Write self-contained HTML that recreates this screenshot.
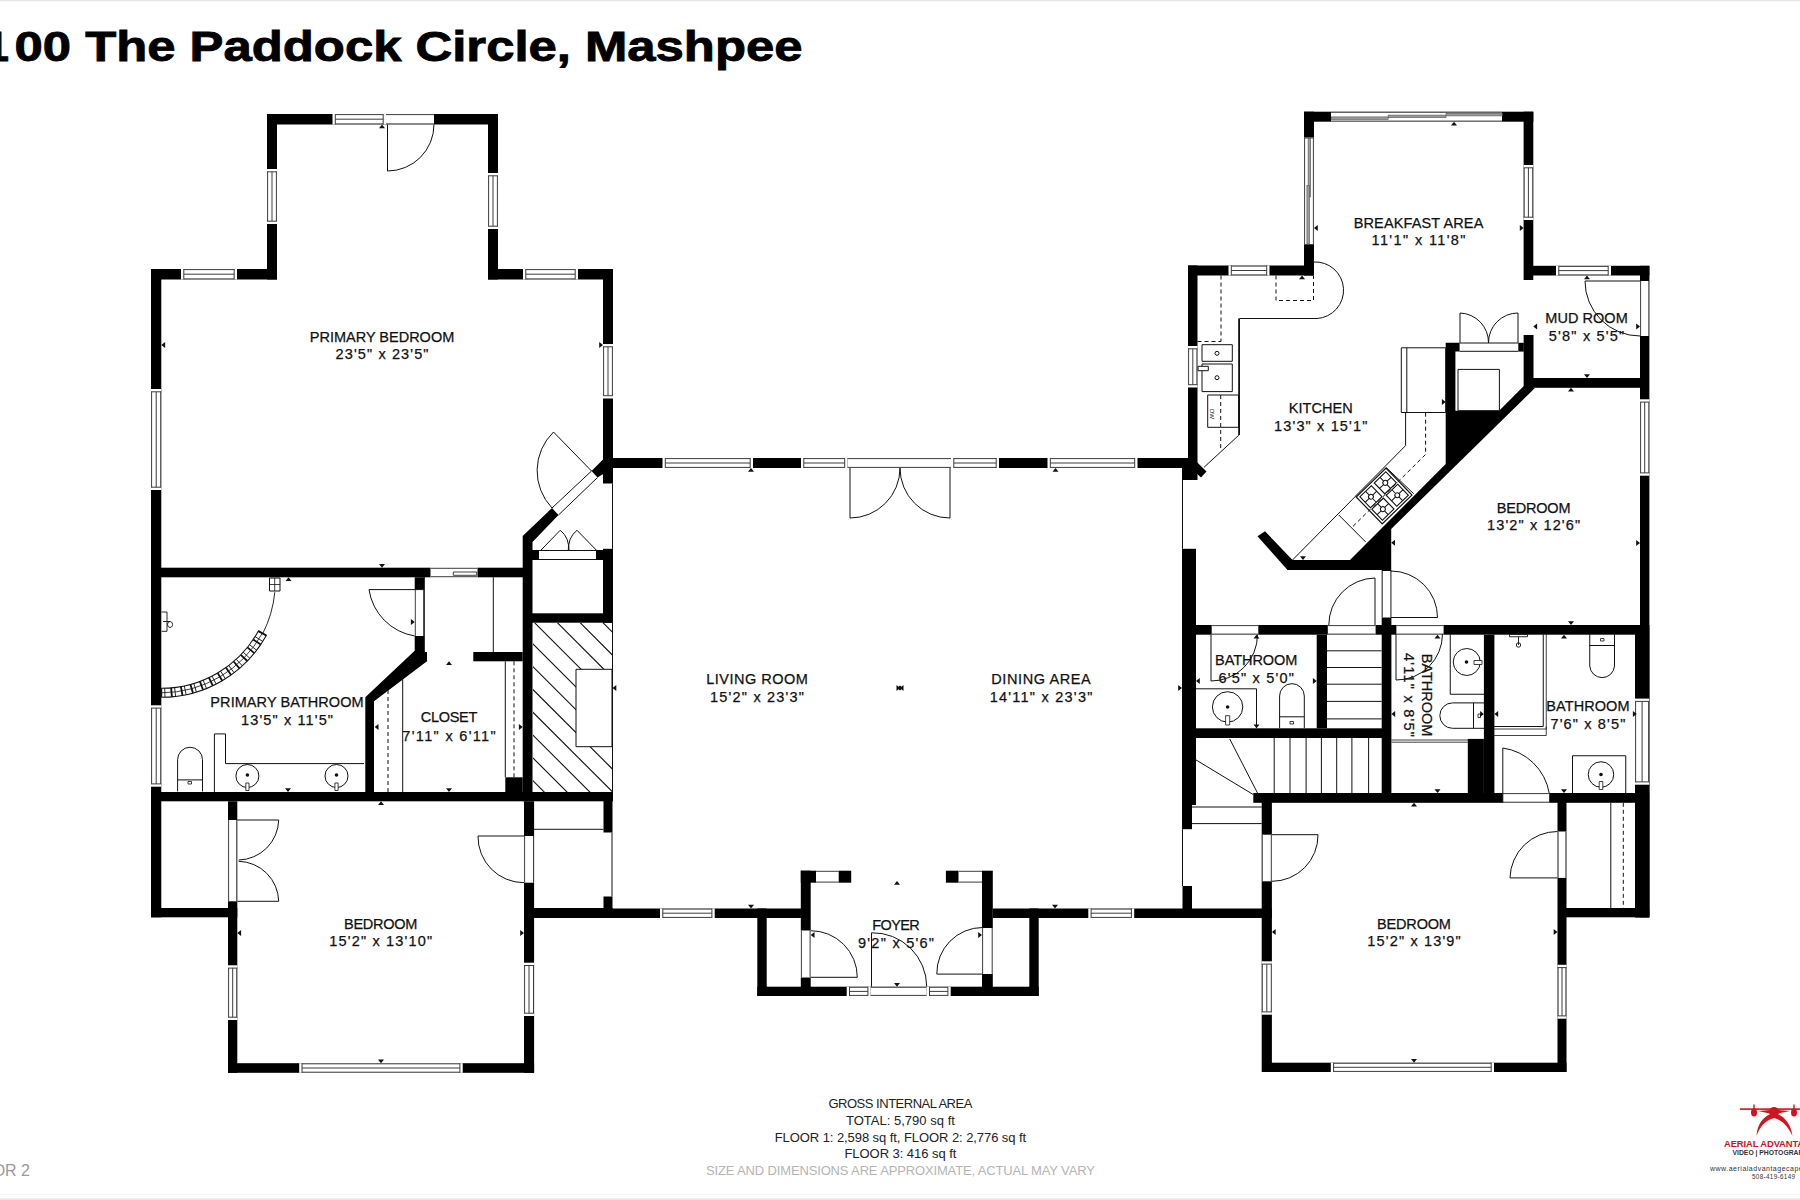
<!DOCTYPE html>
<html><head><meta charset="utf-8"><style>
html,body{margin:0;padding:0;background:#fff;width:1800px;height:1200px;overflow:hidden}
svg{display:block}
text{font-family:"Liberation Sans",sans-serif}
</style></head><body>
<svg width="1800" height="1200" viewBox="0 0 1800 1200">
<rect x="0" y="0" width="1800" height="1200" fill="#fff"/>
<rect x="0.0" y="0.0" width="1800.0" height="1.2" fill="#e6e6e6"/>
<rect x="0.0" y="1194.0" width="1800.0" height="0.8" fill="#f3f3f3"/>
<rect x="0.0" y="1198.5" width="1800.0" height="1.5" fill="#e4e4e4"/>
<text x="-15" y="61" font-size="43" fill="#000" font-weight="bold" text-anchor="start" stroke="#000" stroke-width="0.9">1</text>
<text x="14.5" y="61" font-size="43" fill="#000" font-weight="bold" text-anchor="start" textLength="788" lengthAdjust="spacingAndGlyphs" stroke="#000" stroke-width="0.9">00 The Paddock Circle, Mashpee</text>
<rect x="267.0" y="114.0" width="231.0" height="10.5" fill="#000"/>
<rect x="267.0" y="114.0" width="10.0" height="165.5" fill="#000"/>
<rect x="488.0" y="114.0" width="10.0" height="165.5" fill="#000"/>
<rect x="151.0" y="269.0" width="126.0" height="10.5" fill="#000"/>
<rect x="488.0" y="269.0" width="125.0" height="10.5" fill="#000"/>
<rect x="151.0" y="269.0" width="10.3" height="648.3" fill="#000"/>
<rect x="603.0" y="269.0" width="10.0" height="214.5" fill="#000"/>
<rect x="332.5" y="114.0" width="53.5" height="10.5" fill="#fff"/>
<line x1="335.3" y1="114.6" x2="383.2" y2="114.6" stroke="#3c3c3c" stroke-width="1"/>
<line x1="335.3" y1="119.2" x2="383.2" y2="119.2" stroke="#3c3c3c" stroke-width="1"/>
<line x1="335.3" y1="123.9" x2="383.2" y2="123.9" stroke="#3c3c3c" stroke-width="1"/>
<line x1="335.3" y1="114.0" x2="335.3" y2="124.5" stroke="#3c3c3c" stroke-width="1"/>
<line x1="383.2" y1="114.0" x2="383.2" y2="124.5" stroke="#3c3c3c" stroke-width="1"/>
<rect x="386.0" y="114.0" width="48.0" height="10.5" fill="#fff"/>
<line x1="386.0" y1="114.6" x2="434.0" y2="114.6" stroke="#3c3c3c" stroke-width="1"/>
<line x1="386.0" y1="123.9" x2="434.0" y2="123.9" stroke="#3c3c3c" stroke-width="1"/>
<rect x="267.0" y="169.0" width="10.0" height="55.0" fill="#fff"/>
<line x1="267.6" y1="171.8" x2="267.6" y2="221.2" stroke="#3c3c3c" stroke-width="1"/>
<line x1="272.0" y1="171.8" x2="272.0" y2="221.2" stroke="#3c3c3c" stroke-width="1"/>
<line x1="276.4" y1="171.8" x2="276.4" y2="221.2" stroke="#3c3c3c" stroke-width="1"/>
<line x1="267.0" y1="171.8" x2="277.0" y2="171.8" stroke="#3c3c3c" stroke-width="1"/>
<line x1="267.0" y1="221.2" x2="277.0" y2="221.2" stroke="#3c3c3c" stroke-width="1"/>
<rect x="488.0" y="173.0" width="10.0" height="56.0" fill="#fff"/>
<line x1="488.6" y1="175.8" x2="488.6" y2="226.2" stroke="#3c3c3c" stroke-width="1"/>
<line x1="493.0" y1="175.8" x2="493.0" y2="226.2" stroke="#3c3c3c" stroke-width="1"/>
<line x1="497.4" y1="175.8" x2="497.4" y2="226.2" stroke="#3c3c3c" stroke-width="1"/>
<line x1="488.0" y1="175.8" x2="498.0" y2="175.8" stroke="#3c3c3c" stroke-width="1"/>
<line x1="488.0" y1="226.2" x2="498.0" y2="226.2" stroke="#3c3c3c" stroke-width="1"/>
<rect x="181.0" y="269.0" width="56.0" height="10.5" fill="#fff"/>
<line x1="183.8" y1="269.6" x2="234.2" y2="269.6" stroke="#3c3c3c" stroke-width="1"/>
<line x1="183.8" y1="274.2" x2="234.2" y2="274.2" stroke="#3c3c3c" stroke-width="1"/>
<line x1="183.8" y1="278.9" x2="234.2" y2="278.9" stroke="#3c3c3c" stroke-width="1"/>
<line x1="183.8" y1="269.0" x2="183.8" y2="279.5" stroke="#3c3c3c" stroke-width="1"/>
<line x1="234.2" y1="269.0" x2="234.2" y2="279.5" stroke="#3c3c3c" stroke-width="1"/>
<rect x="523.0" y="269.0" width="55.0" height="10.5" fill="#fff"/>
<line x1="525.8" y1="269.6" x2="575.2" y2="269.6" stroke="#3c3c3c" stroke-width="1"/>
<line x1="525.8" y1="274.2" x2="575.2" y2="274.2" stroke="#3c3c3c" stroke-width="1"/>
<line x1="525.8" y1="278.9" x2="575.2" y2="278.9" stroke="#3c3c3c" stroke-width="1"/>
<line x1="525.8" y1="269.0" x2="525.8" y2="279.5" stroke="#3c3c3c" stroke-width="1"/>
<line x1="575.2" y1="269.0" x2="575.2" y2="279.5" stroke="#3c3c3c" stroke-width="1"/>
<rect x="151.0" y="389.0" width="10.3" height="101.0" fill="#fff"/>
<line x1="151.6" y1="391.8" x2="151.6" y2="487.2" stroke="#3c3c3c" stroke-width="1"/>
<line x1="156.2" y1="391.8" x2="156.2" y2="487.2" stroke="#3c3c3c" stroke-width="1"/>
<line x1="160.7" y1="391.8" x2="160.7" y2="487.2" stroke="#3c3c3c" stroke-width="1"/>
<line x1="151.0" y1="391.8" x2="161.3" y2="391.8" stroke="#3c3c3c" stroke-width="1"/>
<line x1="151.0" y1="487.2" x2="161.3" y2="487.2" stroke="#3c3c3c" stroke-width="1"/>
<rect x="151.0" y="705.3" width="10.3" height="81.4" fill="#fff"/>
<line x1="151.6" y1="708.1" x2="151.6" y2="783.9" stroke="#3c3c3c" stroke-width="1"/>
<line x1="156.2" y1="708.1" x2="156.2" y2="783.9" stroke="#3c3c3c" stroke-width="1"/>
<line x1="160.7" y1="708.1" x2="160.7" y2="783.9" stroke="#3c3c3c" stroke-width="1"/>
<line x1="151.0" y1="708.1" x2="161.3" y2="708.1" stroke="#3c3c3c" stroke-width="1"/>
<line x1="151.0" y1="783.9" x2="161.3" y2="783.9" stroke="#3c3c3c" stroke-width="1"/>
<rect x="603.0" y="344.0" width="10.0" height="54.5" fill="#fff"/>
<line x1="603.6" y1="346.8" x2="603.6" y2="395.7" stroke="#3c3c3c" stroke-width="1"/>
<line x1="608.0" y1="346.8" x2="608.0" y2="395.7" stroke="#3c3c3c" stroke-width="1"/>
<line x1="612.4" y1="346.8" x2="612.4" y2="395.7" stroke="#3c3c3c" stroke-width="1"/>
<line x1="603.0" y1="346.8" x2="613.0" y2="346.8" stroke="#3c3c3c" stroke-width="1"/>
<line x1="603.0" y1="395.7" x2="613.0" y2="395.7" stroke="#3c3c3c" stroke-width="1"/>
<path d="M387.5,124.5 L387.5,171.0 A46.5,46.5 0 0 0 434.0,124.5" fill="none" stroke="#111" stroke-width="1"/>
<rect x="151.0" y="567.7" width="279.7" height="9.6" fill="#000"/>
<rect x="477.3" y="567.7" width="54.7" height="9.6" fill="#000"/>
<rect x="430.7" y="567.7" width="46.6" height="9.6" fill="#fff"/>
<line x1="430.7" y1="568.3" x2="477.3" y2="568.3" stroke="#3c3c3c" stroke-width="1"/>
<line x1="430.7" y1="576.7" x2="477.3" y2="576.7" stroke="#3c3c3c" stroke-width="1"/>
<rect x="453.3" y="572.0" width="23.4" height="3.3" fill="#fff"/>
<path d="M453.3,572 H476.7 V575.3 H453.3 Z" fill="none" stroke="#111" stroke-width="0.8"/>
<polygon points="591.5,471.0 603.0,459.5 613.0,459.5 613.0,468.0 597.5,477.5" fill="#000"/>
<polygon points="522.7,536.0 552.0,508.0 558.5,515.0 532.5,542.0 532.5,801.3 522.7,801.3" fill="#000"/>
<line x1="552.0" y1="508.0" x2="591.5" y2="471.0" stroke="#111" stroke-width="1"/>
<line x1="558.5" y1="515.0" x2="597.5" y2="477.5" stroke="#111" stroke-width="1"/>
<path d="M591.5,471 L553.5,432 A54,54 0 0 0 552,508" fill="none" stroke="#111" stroke-width="1"/>
<rect x="532.0" y="550.0" width="7.0" height="10.0" fill="#000"/>
<rect x="596.0" y="550.0" width="7.0" height="10.0" fill="#000"/>
<rect x="603.0" y="548.8" width="10.0" height="73.9" fill="#000"/>
<rect x="532.0" y="613.3" width="81.0" height="9.4" fill="#000"/>
<line x1="539.0" y1="550.5" x2="596.0" y2="550.5" stroke="#111" stroke-width="1"/>
<line x1="539.0" y1="559.5" x2="596.0" y2="559.5" stroke="#111" stroke-width="1"/>
<line x1="612.5" y1="483.5" x2="612.5" y2="548.8" stroke="#111" stroke-width="1"/>
<path d="M540.3,550.8 L560.2,530.3 A21,21 0 0 1 568.3,550.8" fill="none" stroke="#111" stroke-width="1"/>
<path d="M569,550.8 A21,21 0 0 1 577,530.3 L597,550.8" fill="none" stroke="#111" stroke-width="1"/>
<clipPath id="fp"><rect x="533" y="622.7" width="79" height="169.3"/></clipPath>
<path clip-path="url(#fp)" d="M329.29999999999995,622.7 L499.29999999999995,792.7 M352.1,622.7 L522.1,792.7 M374.9,622.7 L544.9,792.7 M397.7,622.7 L567.7,792.7 M420.5,622.7 L590.5,792.7 M443.3,622.7 L613.3,792.7 M466.1,622.7 L636.1,792.7 M488.9,622.7 L658.9,792.7 M511.7,622.7 L681.7,792.7 M534.5,622.7 L704.5,792.7 M557.3,622.7 L727.3,792.7 M580.1,622.7 L750.1,792.7 M602.9,622.7 L772.9,792.7 M625.7,622.7 L795.7,792.7 M648.5,622.7 L818.5,792.7" fill="none" stroke="#111" stroke-width="1.1"/>
<rect x="576.0" y="669.3" width="36.0" height="77.4" fill="#fff"/>
<path d="M576,669.3 H612 V746.7 H576 Z" fill="none" stroke="#111" stroke-width="1"/>
<line x1="612.5" y1="622.7" x2="612.5" y2="792.0" stroke="#111" stroke-width="1"/>
<rect x="414.7" y="577.3" width="9.6" height="12.3" fill="#000"/>
<rect x="414.7" y="636.0" width="9.6" height="25.3" fill="#000"/>
<rect x="414.7" y="652.0" width="12.3" height="9.3" fill="#000"/>
<rect x="414.7" y="589.6" width="9.6" height="46.4" fill="#fff"/>
<line x1="415.3" y1="589.6" x2="415.3" y2="636.0" stroke="#3c3c3c" stroke-width="1"/>
<line x1="423.7" y1="589.6" x2="423.7" y2="636.0" stroke="#3c3c3c" stroke-width="1"/>
<polygon points="414.7,650.7 427.0,661.3 374.0,701.3 374.0,792.0 365.3,792.0 365.3,697.3" fill="#000"/>
<rect x="473.3" y="652.0" width="49.4" height="9.3" fill="#000"/>
<rect x="505.3" y="777.3" width="17.4" height="14.7" fill="#000"/>
<path d="M424.3,589.6 L369.0,589.6 A55.3,55.3 0 0 0 414.7,636.0" fill="none" stroke="#111" stroke-width="1"/>
<line x1="493.3" y1="577.3" x2="493.3" y2="652.0" stroke="#111" stroke-width="1"/>
<line x1="402.7" y1="676.0" x2="402.7" y2="792.0" stroke="#111" stroke-width="1"/>
<line x1="388.0" y1="690.0" x2="388.0" y2="792.0" stroke="#111" stroke-width="1" stroke-dasharray="4,3"/>
<line x1="505.3" y1="661.3" x2="505.3" y2="777.3" stroke="#111" stroke-width="1"/>
<line x1="514.0" y1="661.3" x2="514.0" y2="777.3" stroke="#111" stroke-width="1" stroke-dasharray="4,3"/>
<line x1="424.3" y1="577.0" x2="424.3" y2="652.0" stroke="#111" stroke-width="1"/>
<rect x="151.0" y="792.0" width="462.0" height="9.3" fill="#000"/>
<rect x="151.0" y="908.0" width="86.3" height="9.3" fill="#000"/>
<rect x="228.0" y="801.3" width="9.3" height="271.5" fill="#000"/>
<rect x="228.0" y="1063.2" width="306.1" height="9.6" fill="#000"/>
<rect x="524.0" y="801.3" width="10.1" height="271.5" fill="#000"/>
<rect x="534.0" y="908.0" width="79.0" height="9.3" fill="#000"/>
<rect x="603.5" y="792.0" width="9.0" height="40.5" fill="#000"/>
<rect x="603.5" y="896.5" width="9.0" height="20.8" fill="#000"/>
<rect x="299.2" y="1063.2" width="163.5" height="9.6" fill="#fff"/>
<line x1="302.0" y1="1063.8" x2="459.9" y2="1063.8" stroke="#3c3c3c" stroke-width="1"/>
<line x1="302.0" y1="1068.0" x2="459.9" y2="1068.0" stroke="#3c3c3c" stroke-width="1"/>
<line x1="302.0" y1="1072.2" x2="459.9" y2="1072.2" stroke="#3c3c3c" stroke-width="1"/>
<line x1="302.0" y1="1063.2" x2="302.0" y2="1072.8" stroke="#3c3c3c" stroke-width="1"/>
<line x1="459.9" y1="1063.2" x2="459.9" y2="1072.8" stroke="#3c3c3c" stroke-width="1"/>
<rect x="228.0" y="820.0" width="9.3" height="81.3" fill="#fff"/>
<line x1="228.6" y1="820.0" x2="228.6" y2="901.3" stroke="#3c3c3c" stroke-width="1"/>
<line x1="236.7" y1="820.0" x2="236.7" y2="901.3" stroke="#3c3c3c" stroke-width="1"/>
<rect x="228.0" y="965.3" width="9.3" height="54.7" fill="#fff"/>
<line x1="228.6" y1="968.1" x2="228.6" y2="1017.2" stroke="#3c3c3c" stroke-width="1"/>
<line x1="232.7" y1="968.1" x2="232.7" y2="1017.2" stroke="#3c3c3c" stroke-width="1"/>
<line x1="236.7" y1="968.1" x2="236.7" y2="1017.2" stroke="#3c3c3c" stroke-width="1"/>
<line x1="228.0" y1="968.1" x2="237.3" y2="968.1" stroke="#3c3c3c" stroke-width="1"/>
<line x1="228.0" y1="1017.2" x2="237.3" y2="1017.2" stroke="#3c3c3c" stroke-width="1"/>
<rect x="524.0" y="836.0" width="10.1" height="46.7" fill="#fff"/>
<line x1="524.6" y1="836.0" x2="524.6" y2="882.7" stroke="#3c3c3c" stroke-width="1"/>
<line x1="533.5" y1="836.0" x2="533.5" y2="882.7" stroke="#3c3c3c" stroke-width="1"/>
<rect x="524.0" y="962.7" width="10.1" height="53.3" fill="#fff"/>
<line x1="524.6" y1="965.5" x2="524.6" y2="1013.2" stroke="#3c3c3c" stroke-width="1"/>
<line x1="529.0" y1="965.5" x2="529.0" y2="1013.2" stroke="#3c3c3c" stroke-width="1"/>
<line x1="533.5" y1="965.5" x2="533.5" y2="1013.2" stroke="#3c3c3c" stroke-width="1"/>
<line x1="524.0" y1="965.5" x2="534.1" y2="965.5" stroke="#3c3c3c" stroke-width="1"/>
<line x1="524.0" y1="1013.2" x2="534.1" y2="1013.2" stroke="#3c3c3c" stroke-width="1"/>
<line x1="612.0" y1="832.5" x2="612.0" y2="896.5" stroke="#111" stroke-width="1"/>
<line x1="534.0" y1="829.3" x2="603.5" y2="829.3" stroke="#111" stroke-width="1"/>
<path d="M237.3,820 H278.7 A41,41 0 0 1 238.7,860" fill="none" stroke="#111" stroke-width="1"/>
<path d="M238.7,861.3 A41,41 0 0 1 278.7,901.3 H237.3" fill="none" stroke="#111" stroke-width="1"/>
<path d="M524.0,836.0 L478.0,836.0 A46.0,46.0 0 0 0 524.0,882.7" fill="none" stroke="#111" stroke-width="1"/>
<rect x="603.0" y="458.0" width="593.0" height="10.0" fill="#000"/>
<rect x="662.5" y="458.0" width="90.5" height="10.0" fill="#fff"/>
<line x1="665.3" y1="458.6" x2="750.2" y2="458.6" stroke="#3c3c3c" stroke-width="1"/>
<line x1="665.3" y1="463.0" x2="750.2" y2="463.0" stroke="#3c3c3c" stroke-width="1"/>
<line x1="665.3" y1="467.4" x2="750.2" y2="467.4" stroke="#3c3c3c" stroke-width="1"/>
<line x1="665.3" y1="458.0" x2="665.3" y2="468.0" stroke="#3c3c3c" stroke-width="1"/>
<line x1="750.2" y1="458.0" x2="750.2" y2="468.0" stroke="#3c3c3c" stroke-width="1"/>
<rect x="801.0" y="458.0" width="46.5" height="10.0" fill="#fff"/>
<line x1="803.8" y1="458.6" x2="844.7" y2="458.6" stroke="#3c3c3c" stroke-width="1"/>
<line x1="803.8" y1="463.0" x2="844.7" y2="463.0" stroke="#3c3c3c" stroke-width="1"/>
<line x1="803.8" y1="467.4" x2="844.7" y2="467.4" stroke="#3c3c3c" stroke-width="1"/>
<line x1="803.8" y1="458.0" x2="803.8" y2="468.0" stroke="#3c3c3c" stroke-width="1"/>
<line x1="844.7" y1="458.0" x2="844.7" y2="468.0" stroke="#3c3c3c" stroke-width="1"/>
<rect x="847.5" y="458.0" width="103.5" height="10.0" fill="#fff"/>
<line x1="847.5" y1="458.6" x2="951.0" y2="458.6" stroke="#3c3c3c" stroke-width="1"/>
<line x1="847.5" y1="467.4" x2="951.0" y2="467.4" stroke="#3c3c3c" stroke-width="1"/>
<rect x="951.0" y="458.0" width="48.0" height="10.0" fill="#fff"/>
<line x1="953.8" y1="458.6" x2="996.2" y2="458.6" stroke="#3c3c3c" stroke-width="1"/>
<line x1="953.8" y1="463.0" x2="996.2" y2="463.0" stroke="#3c3c3c" stroke-width="1"/>
<line x1="953.8" y1="467.4" x2="996.2" y2="467.4" stroke="#3c3c3c" stroke-width="1"/>
<line x1="953.8" y1="458.0" x2="953.8" y2="468.0" stroke="#3c3c3c" stroke-width="1"/>
<line x1="996.2" y1="458.0" x2="996.2" y2="468.0" stroke="#3c3c3c" stroke-width="1"/>
<rect x="1047.5" y="458.0" width="90.0" height="10.0" fill="#fff"/>
<line x1="1050.3" y1="458.6" x2="1134.7" y2="458.6" stroke="#3c3c3c" stroke-width="1"/>
<line x1="1050.3" y1="463.0" x2="1134.7" y2="463.0" stroke="#3c3c3c" stroke-width="1"/>
<line x1="1050.3" y1="467.4" x2="1134.7" y2="467.4" stroke="#3c3c3c" stroke-width="1"/>
<line x1="1050.3" y1="458.0" x2="1050.3" y2="468.0" stroke="#3c3c3c" stroke-width="1"/>
<line x1="1134.7" y1="458.0" x2="1134.7" y2="468.0" stroke="#3c3c3c" stroke-width="1"/>
<path d="M850,468 V518 A50,50 0 0 0 900,468" fill="none" stroke="#111" stroke-width="1"/>
<path d="M950,468 V518 A50,50 0 0 1 900,468" fill="none" stroke="#111" stroke-width="1"/>
<rect x="534.0" y="908.5" width="267.0" height="9.5" fill="#000"/>
<rect x="660.0" y="908.5" width="54.7" height="9.5" fill="#fff"/>
<line x1="662.8" y1="909.1" x2="711.9" y2="909.1" stroke="#3c3c3c" stroke-width="1"/>
<line x1="662.8" y1="913.2" x2="711.9" y2="913.2" stroke="#3c3c3c" stroke-width="1"/>
<line x1="662.8" y1="917.4" x2="711.9" y2="917.4" stroke="#3c3c3c" stroke-width="1"/>
<line x1="662.8" y1="908.5" x2="662.8" y2="918.0" stroke="#3c3c3c" stroke-width="1"/>
<line x1="711.9" y1="908.5" x2="711.9" y2="918.0" stroke="#3c3c3c" stroke-width="1"/>
<rect x="992.8" y="908.5" width="279.1" height="9.5" fill="#000"/>
<rect x="1088.3" y="908.5" width="45.9" height="9.5" fill="#fff"/>
<line x1="1091.1" y1="909.1" x2="1131.4" y2="909.1" stroke="#3c3c3c" stroke-width="1"/>
<line x1="1091.1" y1="913.2" x2="1131.4" y2="913.2" stroke="#3c3c3c" stroke-width="1"/>
<line x1="1091.1" y1="917.4" x2="1131.4" y2="917.4" stroke="#3c3c3c" stroke-width="1"/>
<line x1="1091.1" y1="908.5" x2="1091.1" y2="918.0" stroke="#3c3c3c" stroke-width="1"/>
<line x1="1131.4" y1="908.5" x2="1131.4" y2="918.0" stroke="#3c3c3c" stroke-width="1"/>
<rect x="1182.0" y="458.0" width="14.3" height="22.0" fill="#000"/>
<line x1="1182.5" y1="480.0" x2="1182.5" y2="548.8" stroke="#111" stroke-width="1"/>
<rect x="1182.0" y="548.8" width="14.0" height="256.2" fill="#000"/>
<rect x="1182.0" y="805.0" width="10.0" height="24.2" fill="#000"/>
<line x1="1182.5" y1="829.2" x2="1182.5" y2="886.0" stroke="#111" stroke-width="1"/>
<rect x="1182.5" y="886.0" width="9.5" height="32.0" fill="#000"/>
<line x1="1192.0" y1="807.0" x2="1261.7" y2="807.0" stroke="#111" stroke-width="1"/>
<line x1="1192.0" y1="823.6" x2="1261.7" y2="823.6" stroke="#111" stroke-width="1"/>
<rect x="800.8" y="870.7" width="9.9" height="60.0" fill="#000"/>
<rect x="800.8" y="977.3" width="9.9" height="18.7" fill="#000"/>
<rect x="800.8" y="930.7" width="9.9" height="46.6" fill="#fff"/>
<line x1="801.4" y1="930.7" x2="801.4" y2="977.3" stroke="#3c3c3c" stroke-width="1"/>
<line x1="810.1" y1="930.7" x2="810.1" y2="977.3" stroke="#3c3c3c" stroke-width="1"/>
<rect x="800.8" y="870.7" width="15.2" height="12.0" fill="#000"/>
<rect x="816.0" y="870.7" width="22.7" height="12.0" fill="#fff"/>
<line x1="816.0" y1="871.3" x2="838.7" y2="871.3" stroke="#3c3c3c" stroke-width="1"/>
<line x1="816.0" y1="882.1" x2="838.7" y2="882.1" stroke="#3c3c3c" stroke-width="1"/>
<rect x="838.7" y="870.7" width="12.5" height="12.0" fill="#000"/>
<rect x="945.9" y="870.7" width="12.8" height="12.0" fill="#000"/>
<rect x="958.7" y="870.7" width="23.3" height="12.0" fill="#fff"/>
<line x1="958.7" y1="871.3" x2="982.0" y2="871.3" stroke="#3c3c3c" stroke-width="1"/>
<line x1="958.7" y1="882.1" x2="982.0" y2="882.1" stroke="#3c3c3c" stroke-width="1"/>
<rect x="982.0" y="870.7" width="10.8" height="57.3" fill="#000"/>
<rect x="982.0" y="974.0" width="10.8" height="22.0" fill="#000"/>
<rect x="982.0" y="928.0" width="10.8" height="46.0" fill="#fff"/>
<line x1="982.6" y1="928.0" x2="982.6" y2="974.0" stroke="#3c3c3c" stroke-width="1"/>
<line x1="992.2" y1="928.0" x2="992.2" y2="974.0" stroke="#3c3c3c" stroke-width="1"/>
<rect x="757.3" y="986.7" width="281.4" height="9.3" fill="#000"/>
<rect x="846.7" y="986.7" width="24.0" height="9.3" fill="#fff"/>
<line x1="849.5" y1="987.3" x2="867.9" y2="987.3" stroke="#3c3c3c" stroke-width="1"/>
<line x1="849.5" y1="991.4" x2="867.9" y2="991.4" stroke="#3c3c3c" stroke-width="1"/>
<line x1="849.5" y1="995.4" x2="867.9" y2="995.4" stroke="#3c3c3c" stroke-width="1"/>
<line x1="849.5" y1="986.7" x2="849.5" y2="996.0" stroke="#3c3c3c" stroke-width="1"/>
<line x1="867.9" y1="986.7" x2="867.9" y2="996.0" stroke="#3c3c3c" stroke-width="1"/>
<rect x="870.7" y="986.7" width="56.0" height="9.3" fill="#fff"/>
<line x1="870.7" y1="987.3" x2="926.7" y2="987.3" stroke="#3c3c3c" stroke-width="1"/>
<line x1="870.7" y1="995.4" x2="926.7" y2="995.4" stroke="#3c3c3c" stroke-width="1"/>
<rect x="926.7" y="986.7" width="24.0" height="9.3" fill="#fff"/>
<line x1="929.5" y1="987.3" x2="947.9" y2="987.3" stroke="#3c3c3c" stroke-width="1"/>
<line x1="929.5" y1="991.4" x2="947.9" y2="991.4" stroke="#3c3c3c" stroke-width="1"/>
<line x1="929.5" y1="995.4" x2="947.9" y2="995.4" stroke="#3c3c3c" stroke-width="1"/>
<line x1="929.5" y1="986.7" x2="929.5" y2="996.0" stroke="#3c3c3c" stroke-width="1"/>
<line x1="947.9" y1="986.7" x2="947.9" y2="996.0" stroke="#3c3c3c" stroke-width="1"/>
<rect x="757.3" y="908.5" width="9.4" height="87.5" fill="#000"/>
<rect x="1029.3" y="908.5" width="9.4" height="87.5" fill="#000"/>
<path d="M810.7,977.3 L857.3,977.3 A46.6,46.6 0 0 0 810.7,930.7" fill="none" stroke="#111" stroke-width="1"/>
<path d="M982.7,974.1 L936.8,974.1 A45.9,45.9 0 0 1 982.7,927.5" fill="none" stroke="#111" stroke-width="1"/>
<path d="M871.5,986.7 L871.5,932.8 A53.9,53.9 0 0 1 926.7,986.7" fill="none" stroke="#111" stroke-width="1"/>
<rect x="1304.0" y="111.7" width="229.3" height="10.0" fill="#000"/>
<rect x="1304.0" y="111.7" width="10.0" height="163.8" fill="#000"/>
<rect x="1523.6" y="111.7" width="9.7" height="168.3" fill="#000"/>
<rect x="1188.0" y="265.5" width="126.0" height="10.0" fill="#000"/>
<rect x="1188.0" y="265.5" width="9.5" height="214.5" fill="#000"/>
<rect x="1533.0" y="265.8" width="116.4" height="9.7" fill="#000"/>
<rect x="1640.0" y="265.8" width="9.4" height="651.5" fill="#000"/>
<rect x="1331.0" y="111.7" width="171.0" height="10.0" fill="#fff"/>
<line x1="1331.0" y1="112.3" x2="1502.0" y2="112.3" stroke="#3c3c3c" stroke-width="1"/>
<line x1="1331.0" y1="121.1" x2="1502.0" y2="121.1" stroke="#3c3c3c" stroke-width="1"/>
<rect x="1331.2" y="116.9" width="57.0" height="2.6" fill="#9a9a9a" stroke="#555" stroke-width="0.6"/>
<rect x="1388.2" y="115.10000000000001" width="57.799999999999955" height="2.6" fill="#9a9a9a" stroke="#555" stroke-width="0.6"/>
<rect x="1446" y="113.3" width="56.200000000000045" height="2.6" fill="#9a9a9a" stroke="#555" stroke-width="0.6"/>
<rect x="1304.0" y="137.5" width="10.0" height="107.5" fill="#fff"/>
<line x1="1304.6" y1="137.5" x2="1304.6" y2="245.0" stroke="#3c3c3c" stroke-width="1"/>
<line x1="1313.4" y1="137.5" x2="1313.4" y2="245.0" stroke="#3c3c3c" stroke-width="1"/>
<line x1="1304.0" y1="138.0" x2="1314.0" y2="138.0" stroke="#3c3c3c" stroke-width="1"/>
<line x1="1304.0" y1="244.5" x2="1314.0" y2="244.5" stroke="#3c3c3c" stroke-width="1"/>
<rect x="1308.1000000000001" y="138.5" width="2.6" height="58.5" fill="#9a9a9a" stroke="#555" stroke-width="0.6"/>
<rect x="1306.9" y="185.5" width="2.6" height="58.5" fill="#9a9a9a" stroke="#555" stroke-width="0.6"/>
<rect x="1523.6" y="165.0" width="9.7" height="55.0" fill="#fff"/>
<line x1="1524.2" y1="167.8" x2="1524.2" y2="217.2" stroke="#3c3c3c" stroke-width="1"/>
<line x1="1528.4" y1="167.8" x2="1528.4" y2="217.2" stroke="#3c3c3c" stroke-width="1"/>
<line x1="1532.7" y1="167.8" x2="1532.7" y2="217.2" stroke="#3c3c3c" stroke-width="1"/>
<line x1="1523.6" y1="167.8" x2="1533.3" y2="167.8" stroke="#3c3c3c" stroke-width="1"/>
<line x1="1523.6" y1="217.2" x2="1533.3" y2="217.2" stroke="#3c3c3c" stroke-width="1"/>
<rect x="1228.5" y="265.5" width="41.0" height="10.0" fill="#fff"/>
<line x1="1231.3" y1="266.1" x2="1266.7" y2="266.1" stroke="#3c3c3c" stroke-width="1"/>
<line x1="1231.3" y1="270.5" x2="1266.7" y2="270.5" stroke="#3c3c3c" stroke-width="1"/>
<line x1="1231.3" y1="274.9" x2="1266.7" y2="274.9" stroke="#3c3c3c" stroke-width="1"/>
<line x1="1231.3" y1="265.5" x2="1231.3" y2="275.5" stroke="#3c3c3c" stroke-width="1"/>
<line x1="1266.7" y1="265.5" x2="1266.7" y2="275.5" stroke="#3c3c3c" stroke-width="1"/>
<rect x="1188.0" y="346.0" width="9.5" height="41.5" fill="#fff"/>
<line x1="1188.6" y1="348.8" x2="1188.6" y2="384.7" stroke="#3c3c3c" stroke-width="1"/>
<line x1="1192.8" y1="348.8" x2="1192.8" y2="384.7" stroke="#3c3c3c" stroke-width="1"/>
<line x1="1196.9" y1="348.8" x2="1196.9" y2="384.7" stroke="#3c3c3c" stroke-width="1"/>
<line x1="1188.0" y1="348.8" x2="1197.5" y2="348.8" stroke="#3c3c3c" stroke-width="1"/>
<line x1="1188.0" y1="384.7" x2="1197.5" y2="384.7" stroke="#3c3c3c" stroke-width="1"/>
<rect x="1556.0" y="265.8" width="55.0" height="9.7" fill="#fff"/>
<line x1="1558.8" y1="266.4" x2="1608.2" y2="266.4" stroke="#3c3c3c" stroke-width="1"/>
<line x1="1558.8" y1="270.6" x2="1608.2" y2="270.6" stroke="#3c3c3c" stroke-width="1"/>
<line x1="1558.8" y1="274.9" x2="1608.2" y2="274.9" stroke="#3c3c3c" stroke-width="1"/>
<line x1="1558.8" y1="265.8" x2="1558.8" y2="275.5" stroke="#3c3c3c" stroke-width="1"/>
<line x1="1608.2" y1="265.8" x2="1608.2" y2="275.5" stroke="#3c3c3c" stroke-width="1"/>
<rect x="1640.0" y="281.0" width="9.4" height="55.0" fill="#fff"/>
<line x1="1640.6" y1="281.0" x2="1640.6" y2="336.0" stroke="#3c3c3c" stroke-width="1"/>
<line x1="1648.8" y1="281.0" x2="1648.8" y2="336.0" stroke="#3c3c3c" stroke-width="1"/>
<rect x="1640.0" y="399.3" width="9.4" height="76.4" fill="#fff"/>
<line x1="1640.6" y1="402.1" x2="1640.6" y2="472.9" stroke="#3c3c3c" stroke-width="1"/>
<line x1="1644.7" y1="402.1" x2="1644.7" y2="472.9" stroke="#3c3c3c" stroke-width="1"/>
<line x1="1648.8" y1="402.1" x2="1648.8" y2="472.9" stroke="#3c3c3c" stroke-width="1"/>
<line x1="1640.0" y1="402.1" x2="1649.4" y2="402.1" stroke="#3c3c3c" stroke-width="1"/>
<line x1="1640.0" y1="472.9" x2="1649.4" y2="472.9" stroke="#3c3c3c" stroke-width="1"/>
<rect x="1635.0" y="625.0" width="14.4" height="292.3" fill="#000"/>
<rect x="1635.0" y="698.6" width="14.2" height="86.1" fill="#fff"/>
<line x1="1635.6" y1="701.4" x2="1635.6" y2="781.9" stroke="#3c3c3c" stroke-width="1"/>
<line x1="1642.1" y1="701.4" x2="1642.1" y2="781.9" stroke="#3c3c3c" stroke-width="1"/>
<line x1="1648.6" y1="701.4" x2="1648.6" y2="781.9" stroke="#3c3c3c" stroke-width="1"/>
<line x1="1635.0" y1="701.4" x2="1649.2" y2="701.4" stroke="#3c3c3c" stroke-width="1"/>
<line x1="1635.0" y1="781.9" x2="1649.2" y2="781.9" stroke="#3c3c3c" stroke-width="1"/>
<path d="M1640.0,281.0 L1585.0,281.0 A55.0,55.0 0 0 0 1640.0,336.0" fill="none" stroke="#111" stroke-width="1"/>
<rect x="1533.0" y="378.0" width="107.6" height="9.8" fill="#000"/>
<rect x="1523.8" y="335.0" width="9.5" height="53.0" fill="#000"/>
<polygon points="1257.5,536.2 1265.0,531.2 1292.5,560.0 1350.0,560.0 1445.7,464.1 1445.7,342.8 1459.6,342.8 1459.6,351.6 1455.4,351.6 1455.4,410.7 1499.1,410.7 1523.8,386.0 1523.8,335.0 1533.3,335.0 1533.3,387.8 1535.2,387.8 1391.2,528.9 1391.2,570.0 1287.5,570.0" fill="#000"/>
<rect x="1518.3" y="342.8" width="5.5" height="8.8" fill="#000"/>
<line x1="1459.6" y1="343.0" x2="1518.3" y2="343.0" stroke="#111" stroke-width="1"/>
<line x1="1459.6" y1="351.3" x2="1518.3" y2="351.3" stroke="#111" stroke-width="1"/>
<path d="M1460,342.8 V313 A29.5,29.5 0 0 1 1488.5,342.8" fill="none" stroke="#111" stroke-width="1"/>
<path d="M1488.5,342.8 A29.5,29.5 0 0 1 1518,313 V342.8" fill="none" stroke="#111" stroke-width="1"/>
<path d="M1458,369.4 H1499.4 V410.7 H1458 Z" fill="none" stroke="#111" stroke-width="1"/>
<path d="M1401.3,347.8 H1445.7 V412.5 H1401.3 Z" fill="none" stroke="#111" stroke-width="1"/>
<line x1="1406.8" y1="347.8" x2="1406.8" y2="412.5" stroke="#111" stroke-width="1"/>
<rect x="1196.0" y="625.0" width="453.0" height="9.7" fill="#000"/>
<rect x="1211.7" y="625.0" width="46.6" height="9.7" fill="#fff"/>
<line x1="1211.7" y1="625.6" x2="1258.3" y2="625.6" stroke="#3c3c3c" stroke-width="1"/>
<line x1="1211.7" y1="634.1" x2="1258.3" y2="634.1" stroke="#3c3c3c" stroke-width="1"/>
<rect x="1327.8" y="625.0" width="47.8" height="9.7" fill="#fff"/>
<line x1="1327.8" y1="625.6" x2="1375.6" y2="625.6" stroke="#3c3c3c" stroke-width="1"/>
<line x1="1327.8" y1="634.1" x2="1375.6" y2="634.1" stroke="#3c3c3c" stroke-width="1"/>
<rect x="1396.4" y="625.0" width="47.2" height="9.7" fill="#fff"/>
<line x1="1396.4" y1="625.6" x2="1443.6" y2="625.6" stroke="#3c3c3c" stroke-width="1"/>
<line x1="1396.4" y1="634.1" x2="1443.6" y2="634.1" stroke="#3c3c3c" stroke-width="1"/>
<rect x="1381.7" y="570.0" width="9.7" height="223.0" fill="#000"/>
<rect x="1381.7" y="571.0" width="9.7" height="46.5" fill="#fff"/>
<line x1="1382.3" y1="571.0" x2="1382.3" y2="617.5" stroke="#3c3c3c" stroke-width="1"/>
<line x1="1390.8" y1="571.0" x2="1390.8" y2="617.5" stroke="#3c3c3c" stroke-width="1"/>
<rect x="1195.6" y="728.3" width="195.2" height="9.7" fill="#000"/>
<rect x="1316.7" y="634.7" width="10.3" height="93.6" fill="#000"/>
<rect x="1467.8" y="738.9" width="16.1" height="54.1" fill="#000"/>
<rect x="1483.9" y="634.7" width="10.5" height="158.3" fill="#000"/>
<rect x="1253.3" y="793.0" width="395.7" height="9.8" fill="#000"/>
<rect x="1502.8" y="793.0" width="46.4" height="9.8" fill="#fff"/>
<line x1="1502.8" y1="793.6" x2="1549.2" y2="793.6" stroke="#3c3c3c" stroke-width="1"/>
<line x1="1502.8" y1="802.2" x2="1549.2" y2="802.2" stroke="#3c3c3c" stroke-width="1"/>
<path d="M1211.0,634.7 L1211.0,681.0 A46.3,46.3 0 0 0 1257.5,634.7" fill="none" stroke="#111" stroke-width="1"/>
<path d="M1375.0,625.0 L1375.0,578.0 A47.0,47.0 0 0 0 1328.8,625.0" fill="none" stroke="#111" stroke-width="1"/>
<path d="M1391.0,617.5 L1437.5,617.5 A46.5,46.5 0 0 0 1391.0,571.0" fill="none" stroke="#111" stroke-width="1"/>
<path d="M1396.0,634.0 L1396.0,680.0 A46.0,46.0 0 0 0 1442.5,634.0" fill="none" stroke="#111" stroke-width="1"/>
<path d="M1502.8,802.8 L1502.8,748.0 A54.8,54.8 0 0 1 1549.2,793.0" fill="none" stroke="#111" stroke-width="1"/>
<line x1="1327.0" y1="650.8" x2="1381.7" y2="650.8" stroke="#111" stroke-width="1"/>
<line x1="1327.0" y1="667.5" x2="1381.7" y2="667.5" stroke="#111" stroke-width="1"/>
<line x1="1327.0" y1="684.2" x2="1381.7" y2="684.2" stroke="#111" stroke-width="1"/>
<line x1="1327.0" y1="701.4" x2="1381.7" y2="701.4" stroke="#111" stroke-width="1"/>
<line x1="1327.0" y1="718.9" x2="1381.7" y2="718.9" stroke="#111" stroke-width="1"/>
<line x1="1274.2" y1="738.0" x2="1274.2" y2="793.0" stroke="#111" stroke-width="1"/>
<line x1="1290.0" y1="738.0" x2="1290.0" y2="793.0" stroke="#111" stroke-width="1"/>
<line x1="1306.1" y1="738.0" x2="1306.1" y2="793.0" stroke="#111" stroke-width="1"/>
<line x1="1321.4" y1="738.0" x2="1321.4" y2="793.0" stroke="#111" stroke-width="1"/>
<line x1="1336.7" y1="738.0" x2="1336.7" y2="793.0" stroke="#111" stroke-width="1"/>
<line x1="1351.9" y1="738.0" x2="1351.9" y2="793.0" stroke="#111" stroke-width="1"/>
<line x1="1368.6" y1="738.0" x2="1368.6" y2="793.0" stroke="#111" stroke-width="1"/>
<line x1="1195.6" y1="759.7" x2="1253.0" y2="794.4" stroke="#111" stroke-width="1"/>
<line x1="1229.7" y1="738.9" x2="1257.5" y2="793.0" stroke="#111" stroke-width="1"/>
<rect x="1261.7" y="793.0" width="10.2" height="279.0" fill="#000"/>
<rect x="1262.0" y="1062.7" width="304.5" height="9.3" fill="#000"/>
<rect x="1557.5" y="793.0" width="9.0" height="279.0" fill="#000"/>
<rect x="1635.3" y="793.0" width="13.9" height="124.3" fill="#000"/>
<rect x="1566.0" y="908.0" width="83.2" height="9.3" fill="#000"/>
<rect x="1261.7" y="834.7" width="10.2" height="46.6" fill="#fff"/>
<line x1="1262.3" y1="834.7" x2="1262.3" y2="881.3" stroke="#3c3c3c" stroke-width="1"/>
<line x1="1271.3" y1="834.7" x2="1271.3" y2="881.3" stroke="#3c3c3c" stroke-width="1"/>
<rect x="1261.7" y="961.3" width="10.2" height="53.4" fill="#fff"/>
<line x1="1262.3" y1="964.1" x2="1262.3" y2="1011.9" stroke="#3c3c3c" stroke-width="1"/>
<line x1="1266.8" y1="964.1" x2="1266.8" y2="1011.9" stroke="#3c3c3c" stroke-width="1"/>
<line x1="1271.3" y1="964.1" x2="1271.3" y2="1011.9" stroke="#3c3c3c" stroke-width="1"/>
<line x1="1261.7" y1="964.1" x2="1271.9" y2="964.1" stroke="#3c3c3c" stroke-width="1"/>
<line x1="1261.7" y1="1011.9" x2="1271.9" y2="1011.9" stroke="#3c3c3c" stroke-width="1"/>
<rect x="1330.8" y="1062.7" width="163.2" height="9.3" fill="#fff"/>
<line x1="1333.6" y1="1063.3" x2="1491.2" y2="1063.3" stroke="#3c3c3c" stroke-width="1"/>
<line x1="1333.6" y1="1067.3" x2="1491.2" y2="1067.3" stroke="#3c3c3c" stroke-width="1"/>
<line x1="1333.6" y1="1071.4" x2="1491.2" y2="1071.4" stroke="#3c3c3c" stroke-width="1"/>
<line x1="1333.6" y1="1062.7" x2="1333.6" y2="1072.0" stroke="#3c3c3c" stroke-width="1"/>
<line x1="1491.2" y1="1062.7" x2="1491.2" y2="1072.0" stroke="#3c3c3c" stroke-width="1"/>
<rect x="1557.5" y="831.5" width="9.0" height="46.4" fill="#fff"/>
<line x1="1558.1" y1="831.5" x2="1558.1" y2="877.9" stroke="#3c3c3c" stroke-width="1"/>
<line x1="1565.9" y1="831.5" x2="1565.9" y2="877.9" stroke="#3c3c3c" stroke-width="1"/>
<rect x="1557.5" y="964.8" width="9.0" height="53.9" fill="#fff"/>
<line x1="1558.1" y1="967.6" x2="1558.1" y2="1015.9" stroke="#3c3c3c" stroke-width="1"/>
<line x1="1562.0" y1="967.6" x2="1562.0" y2="1015.9" stroke="#3c3c3c" stroke-width="1"/>
<line x1="1565.9" y1="967.6" x2="1565.9" y2="1015.9" stroke="#3c3c3c" stroke-width="1"/>
<line x1="1557.5" y1="967.6" x2="1566.5" y2="967.6" stroke="#3c3c3c" stroke-width="1"/>
<line x1="1557.5" y1="1015.9" x2="1566.5" y2="1015.9" stroke="#3c3c3c" stroke-width="1"/>
<path d="M1271.9,834.7 L1318.0,834.7 A46.1,46.1 0 0 1 1271.9,881.3" fill="none" stroke="#111" stroke-width="1"/>
<path d="M1557.5,877.9 L1510.0,877.9 A47.5,47.5 0 0 1 1557.5,831.5" fill="none" stroke="#111" stroke-width="1"/>
<line x1="1610.8" y1="802.8" x2="1610.8" y2="908.0" stroke="#111" stroke-width="1"/>
<line x1="1623.3" y1="802.8" x2="1623.3" y2="908.0" stroke="#111" stroke-width="1" stroke-dasharray="4,3"/>
<text x="382" y="341.7" font-size="14.5" fill="#111" font-weight="normal" text-anchor="middle" textLength="144.5" lengthAdjust="spacing" stroke="#111" stroke-width="0.25">PRIMARY BEDROOM</text>
<text x="382" y="359.2" font-size="14.5" fill="#111" font-weight="normal" text-anchor="middle" textLength="93" lengthAdjust="spacing" stroke="#111" stroke-width="0.25">23'5" x 23'5"</text>
<text x="757" y="683.7" font-size="14.5" fill="#111" font-weight="normal" text-anchor="middle" textLength="101.5" lengthAdjust="spacing" stroke="#111" stroke-width="0.25">LIVING ROOM</text>
<text x="757" y="701.7" font-size="14.5" fill="#111" font-weight="normal" text-anchor="middle" textLength="94" lengthAdjust="spacing" stroke="#111" stroke-width="0.25">15'2" x 23'3"</text>
<text x="1041" y="683.5" font-size="14.5" fill="#111" font-weight="normal" text-anchor="middle" textLength="99.4" lengthAdjust="spacing" stroke="#111" stroke-width="0.25">DINING AREA</text>
<text x="1041" y="701.5" font-size="14.5" fill="#111" font-weight="normal" text-anchor="middle" textLength="102.7" lengthAdjust="spacing" stroke="#111" stroke-width="0.25">14'11" x 23'3"</text>
<text x="287" y="706.7" font-size="14.5" fill="#111" font-weight="normal" text-anchor="middle" textLength="153.3" lengthAdjust="spacing" stroke="#111" stroke-width="0.25">PRIMARY BATHROOM</text>
<text x="287" y="724.5" font-size="14.5" fill="#111" font-weight="normal" text-anchor="middle" textLength="92" lengthAdjust="spacing" stroke="#111" stroke-width="0.25">13'5" x 11'5"</text>
<text x="449" y="722.4000000000001" font-size="14.5" fill="#111" font-weight="normal" text-anchor="middle" textLength="56.5" lengthAdjust="spacing" stroke="#111" stroke-width="0.25">CLOSET</text>
<text x="449" y="740.5" font-size="14.5" fill="#111" font-weight="normal" text-anchor="middle" textLength="93.3" lengthAdjust="spacing" stroke="#111" stroke-width="0.25">7'11" x 6'11"</text>
<text x="380.7" y="928.5" font-size="14.5" fill="#111" font-weight="normal" text-anchor="middle" textLength="73.3" lengthAdjust="spacing" stroke="#111" stroke-width="0.25">BEDROOM</text>
<text x="380.7" y="946.4000000000001" font-size="14.5" fill="#111" font-weight="normal" text-anchor="middle" textLength="102.7" lengthAdjust="spacing" stroke="#111" stroke-width="0.25">15'2" x 13'10"</text>
<text x="896" y="930.2" font-size="14.5" fill="#111" font-weight="normal" text-anchor="middle" textLength="47.5" lengthAdjust="spacing" stroke="#111" stroke-width="0.25">FOYER</text>
<text x="896" y="947.7" font-size="14.5" fill="#111" font-weight="normal" text-anchor="middle" textLength="76" lengthAdjust="spacing" stroke="#111" stroke-width="0.25">9'2" x 5'6"</text>
<text x="1414" y="928.5" font-size="14.5" fill="#111" font-weight="normal" text-anchor="middle" textLength="73.8" lengthAdjust="spacing" stroke="#111" stroke-width="0.25">BEDROOM</text>
<text x="1414" y="946.4000000000001" font-size="14.5" fill="#111" font-weight="normal" text-anchor="middle" textLength="93.4" lengthAdjust="spacing" stroke="#111" stroke-width="0.25">15'2" x 13'9"</text>
<text x="1320.7" y="413.2" font-size="14.5" fill="#111" font-weight="normal" text-anchor="middle" textLength="64" lengthAdjust="spacing" stroke="#111" stroke-width="0.25">KITCHEN</text>
<text x="1320.7" y="431.2" font-size="14.5" fill="#111" font-weight="normal" text-anchor="middle" textLength="93.3" lengthAdjust="spacing" stroke="#111" stroke-width="0.25">13'3" x 15'1"</text>
<text x="1418.5" y="227.5" font-size="14.5" fill="#111" font-weight="normal" text-anchor="middle" textLength="129.7" lengthAdjust="spacing" stroke="#111" stroke-width="0.25">BREAKFAST AREA</text>
<text x="1418.5" y="245.0" font-size="14.5" fill="#111" font-weight="normal" text-anchor="middle" textLength="93.9" lengthAdjust="spacing" stroke="#111" stroke-width="0.25">11'1" x 11'8"</text>
<text x="1586.5" y="322.8" font-size="14.5" fill="#111" font-weight="normal" text-anchor="middle" textLength="82.5" lengthAdjust="spacing" stroke="#111" stroke-width="0.25">MUD ROOM</text>
<text x="1586.5" y="340.9" font-size="14.5" fill="#111" font-weight="normal" text-anchor="middle" textLength="75.5" lengthAdjust="spacing" stroke="#111" stroke-width="0.25">5'8" x 5'5"</text>
<text x="1533.6" y="512.5" font-size="14.5" fill="#111" font-weight="normal" text-anchor="middle" textLength="73.9" lengthAdjust="spacing" stroke="#111" stroke-width="0.25">BEDROOM</text>
<text x="1533.6" y="529.95" font-size="14.5" fill="#111" font-weight="normal" text-anchor="middle" textLength="93" lengthAdjust="spacing" stroke="#111" stroke-width="0.25">13'2" x 12'6"</text>
<text x="1256.2" y="664.7" font-size="14.5" fill="#111" font-weight="normal" text-anchor="middle" textLength="82.2" lengthAdjust="spacing" stroke="#111" stroke-width="0.25">BATHROOM</text>
<text x="1256.2" y="682.8000000000001" font-size="14.5" fill="#111" font-weight="normal" text-anchor="middle" textLength="75.2" lengthAdjust="spacing" stroke="#111" stroke-width="0.25">6'5" x 5'0"</text>
<text x="1587.9" y="711.0" font-size="14.5" fill="#111" font-weight="normal" text-anchor="middle" textLength="83.2" lengthAdjust="spacing" stroke="#111" stroke-width="0.25">BATHROOM</text>
<text x="1587.9" y="729.45" font-size="14.5" fill="#111" font-weight="normal" text-anchor="middle" textLength="75" lengthAdjust="spacing" stroke="#111" stroke-width="0.25">7'6" x 8'5"</text>
<g transform="translate(1418.4,695) rotate(90)">
<text x="0" y="-3.4" font-size="14.5" fill="#111" font-weight="normal" text-anchor="middle" textLength="82.5" lengthAdjust="spacing" stroke="#111" stroke-width="0.25">BATHROOM</text>
<text x="0" y="14.6" font-size="14.5" fill="#111" font-weight="normal" text-anchor="middle" textLength="84" lengthAdjust="spacing" stroke="#111" stroke-width="0.25">4'11" x 8'5"</text>
</g>
<path d="M1238.7,318.5 V435.3 L1204,467.3" fill="none" stroke="#111" stroke-width="1"/>
<path d="M1239.5,435 V318.5 H1317 A28.2,28.2 0 0 0 1313.5,262" fill="none" stroke="#111" stroke-width="1"/>
<line x1="1221.0" y1="275.5" x2="1221.0" y2="341.5" stroke="#111" stroke-width="1" stroke-dasharray="4,3"/>
<line x1="1197.5" y1="341.5" x2="1221.0" y2="341.5" stroke="#111" stroke-width="1" stroke-dasharray="4,3"/>
<path d="M1276,275.5 V300.5 H1313.5 V275.5" fill="none" stroke="#111" stroke-width="1" stroke-dasharray="4,3"/>
<line x1="1220.7" y1="395.0" x2="1220.7" y2="450.0" stroke="#111" stroke-width="1" stroke-dasharray="4,3"/>
<path d="M1202,344.7 H1232.3 V361.3 H1202 Z" fill="none" stroke="#111" stroke-width="1"/>
<path d="M1202,364 H1232.3 V391.6 H1202 Z" fill="none" stroke="#111" stroke-width="1"/>
<circle cx="1217" cy="353.3" r="2" fill="none" stroke="#111" stroke-width="1"/>
<circle cx="1217" cy="377.7" r="2" fill="none" stroke="#111" stroke-width="1"/>
<path d="M1198,366.3 H1208.3 V370.7 H1198 Z" fill="#fff" stroke="#111" stroke-width="1"/>
<path d="M1207.7,395 H1238.7 V427.3 H1207.7 Z" fill="none" stroke="#111" stroke-width="1"/>
<text transform="translate(1210,414) rotate(90)" font-size="6" fill="#222" text-anchor="middle">DW</text>
<path d="M1405.6,412.7 V445.6 L1292.5,560" fill="none" stroke="#111" stroke-width="1"/>
<path d="M1425.6,412.7 V454.4 L1352.5,526.9" fill="none" stroke="#111" stroke-width="1" stroke-dasharray="4,3"/>
<line x1="1338.8" y1="515.0" x2="1365.6" y2="541.9" stroke="#111" stroke-width="1"/>
<line x1="1386.2" y1="467.5" x2="1413.8" y2="493.8" stroke="#111" stroke-width="1"/>
<g transform="translate(1384.1,496) rotate(-44)">
<path d="M-20.7,-18.7 H20.7 V18.7 H-20.7 Z" fill="none" stroke="#111" stroke-width="1.2"/>
<line x1="-20.7" y1="-20.0" x2="20.7" y2="-20.0" stroke="#777" stroke-width="1"/>
<rect x="-18" y="-16.2" width="16" height="15.2" fill="none" stroke="#111" stroke-width="1.1"/>
<circle cx="-10" cy="-8.6" r="2.4" fill="#fff" stroke="#111" stroke-width="1"/>
<path d="M-18,-8.6 h5.6 M-7.6,-8.6 h5.6 M-10,-16.2 v5.2 M-10,-6.199999999999999 v5.2" fill="none" stroke="#111" stroke-width="1"/>
<rect x="-18" y="1.0" width="16" height="15.2" fill="none" stroke="#111" stroke-width="1.1"/>
<circle cx="-10" cy="8.6" r="2.4" fill="#fff" stroke="#111" stroke-width="1"/>
<path d="M-18,8.6 h5.6 M-7.6,8.6 h5.6 M-10,1.0 v5.2 M-10,11.0 v5.2" fill="none" stroke="#111" stroke-width="1"/>
<rect x="2" y="-16.2" width="16" height="15.2" fill="none" stroke="#111" stroke-width="1.1"/>
<circle cx="10" cy="-8.6" r="2.4" fill="#fff" stroke="#111" stroke-width="1"/>
<path d="M2,-8.6 h5.6 M12.4,-8.6 h5.6 M10,-16.2 v5.2 M10,-6.199999999999999 v5.2" fill="none" stroke="#111" stroke-width="1"/>
<rect x="2" y="1.0" width="16" height="15.2" fill="none" stroke="#111" stroke-width="1.1"/>
<circle cx="10" cy="8.6" r="2.4" fill="#fff" stroke="#111" stroke-width="1"/>
<path d="M2,8.6 h5.6 M12.4,8.6 h5.6 M10,1.0 v5.2 M10,11.0 v5.2" fill="none" stroke="#111" stroke-width="1"/>
</g>
<path d="M161.3,688.3 A111,111 0 0 0 258.4,631.1 L266.3,635.5 A120,120 0 0 1 161.3,697.3" fill="none" stroke="#111" stroke-width="1.1"/>
<path d="M161.3,692.8 A115.5,115.5 0 0 0 262.3,633.3" fill="none" stroke="#111" stroke-width="0.8"/>
<line x1="161.3" y1="688.3" x2="161.3" y2="697.3" stroke="#111" stroke-width="1.8"/>
<line x1="164.7" y1="688.2" x2="165.0" y2="697.2" stroke="#111" stroke-width="0.9"/>
<line x1="171.1" y1="687.9" x2="171.9" y2="696.8" stroke="#111" stroke-width="1.8"/>
<line x1="174.6" y1="687.5" x2="175.6" y2="696.4" stroke="#111" stroke-width="0.9"/>
<line x1="180.9" y1="686.6" x2="182.5" y2="695.4" stroke="#111" stroke-width="1.8"/>
<line x1="184.3" y1="685.9" x2="186.1" y2="694.7" stroke="#111" stroke-width="0.9"/>
<line x1="190.5" y1="684.4" x2="192.9" y2="693.1" stroke="#111" stroke-width="1.8"/>
<line x1="193.8" y1="683.4" x2="196.4" y2="692.0" stroke="#111" stroke-width="0.9"/>
<line x1="199.9" y1="681.4" x2="203.0" y2="689.8" stroke="#111" stroke-width="1.8"/>
<line x1="203.1" y1="680.1" x2="206.5" y2="688.5" stroke="#111" stroke-width="0.9"/>
<line x1="208.9" y1="677.6" x2="212.8" y2="685.7" stroke="#111" stroke-width="1.8"/>
<line x1="212.0" y1="676.0" x2="216.1" y2="684.0" stroke="#111" stroke-width="0.9"/>
<line x1="217.6" y1="672.9" x2="222.2" y2="680.7" stroke="#111" stroke-width="1.8"/>
<line x1="220.6" y1="671.1" x2="225.4" y2="678.8" stroke="#111" stroke-width="0.9"/>
<line x1="225.9" y1="667.6" x2="231.1" y2="674.9" stroke="#111" stroke-width="1.8"/>
<line x1="228.7" y1="665.5" x2="234.1" y2="672.7" stroke="#111" stroke-width="0.9"/>
<line x1="233.6" y1="661.5" x2="239.5" y2="668.3" stroke="#111" stroke-width="1.8"/>
<line x1="236.2" y1="659.2" x2="242.3" y2="665.8" stroke="#111" stroke-width="0.9"/>
<line x1="240.8" y1="654.8" x2="247.3" y2="661.0" stroke="#111" stroke-width="1.8"/>
<line x1="243.2" y1="652.2" x2="249.8" y2="658.3" stroke="#111" stroke-width="0.9"/>
<line x1="247.4" y1="647.4" x2="254.3" y2="653.1" stroke="#111" stroke-width="1.8"/>
<line x1="249.5" y1="644.7" x2="256.6" y2="650.2" stroke="#111" stroke-width="0.9"/>
<line x1="253.2" y1="639.5" x2="260.7" y2="644.5" stroke="#111" stroke-width="1.8"/>
<line x1="255.1" y1="636.6" x2="262.7" y2="641.4" stroke="#111" stroke-width="0.9"/>
<line x1="258.4" y1="631.1" x2="266.3" y2="635.5" stroke="#111" stroke-width="1.8"/>
<path d="M262.8,633.5 A115,115 0 0 0 274.8,592.2" fill="none" stroke="#111" stroke-width="0.9"/>
<path d="M269.5,578 H280 V591 H269.5 Z" fill="none" stroke="#111" stroke-width="1"/>
<line x1="269.5" y1="584.5" x2="280.0" y2="584.5" stroke="#111" stroke-width="0.8"/>
<line x1="274.7" y1="578.0" x2="274.7" y2="591.0" stroke="#111" stroke-width="0.8"/>
<path d="M161.7,612 H167 V631.3 H161.7" fill="none" stroke="#111" stroke-width="0.9"/>
<path d="M163,621.5 H170 M170,621.5 a2.5,3 0 1 0 0.1,0" fill="none" stroke="#111" stroke-width="0.9"/>
<path d="M177.6,791.4 V759.7 A12.45,12.45 0 0 1 202.5,759.7 V791.4" fill="none" stroke="#111" stroke-width="1"/>
<line x1="177.6" y1="779.9" x2="202.5" y2="779.9" stroke="#111" stroke-width="1"/>
<path d="M188,781.5 h3.5 v2.5 h-3.5 Z" fill="none" stroke="#111" stroke-width="0.8"/>
<path d="M214.4,792 V733.9 H225.5 V763.6 H364" fill="none" stroke="#111" stroke-width="1"/>
<circle cx="247.4" cy="776" r="11.5" fill="none" stroke="#111" stroke-width="1"/>
<circle cx="336.5" cy="776" r="11.5" fill="none" stroke="#111" stroke-width="1"/>
<circle cx="247.4" cy="775" r="1.8" fill="#111"/>
<circle cx="336.5" cy="775" r="1.8" fill="#111"/>
<path d="M245.8,783 h3.2 v7.5 h-3.2 Z" fill="#fff" stroke="#111" stroke-width="0.8"/>
<path d="M334.9,783 h3.2 v7.5 h-3.2 Z" fill="#fff" stroke="#111" stroke-width="0.8"/>
<path d="M1195.8,688.8 H1256.5 V728" fill="none" stroke="#111" stroke-width="1"/>
<circle cx="1227.6" cy="706.9" r="15.2" fill="none" stroke="#111" stroke-width="1"/>
<circle cx="1227.6" cy="707" r="1.8" fill="#111"/>
<path d="M1225.6,715.7 h4.1 v9.3 h-4.1 Z" fill="#fff" stroke="#111" stroke-width="0.8"/>
<path d="M1279.6,728 V696 A12.35,12.35 0 0 1 1304.3,696 V728" fill="none" stroke="#111" stroke-width="1"/>
<line x1="1279.6" y1="716.8" x2="1304.3" y2="716.8" stroke="#111" stroke-width="1"/>
<path d="M1290,721.5 h3.5 v2.5 h-3.5 Z" fill="none" stroke="#111" stroke-width="0.8"/>
<path d="M1484,694.25 H1450.25 V634.25" fill="none" stroke="#111" stroke-width="1"/>
<circle cx="1466.75" cy="662" r="13.5" fill="none" stroke="#111" stroke-width="1"/>
<circle cx="1466.5" cy="662" r="1.8" fill="#111"/>
<path d="M1474,660.5 h8 v4 h-8 Z" fill="#fff" stroke="#111" stroke-width="0.8"/>
<path d="M1484,702.9 H1452.5 A12.7,12.7 0 0 0 1452.5,728.3 H1484" fill="none" stroke="#111" stroke-width="1"/>
<line x1="1473.5" y1="702.9" x2="1473.5" y2="728.3" stroke="#111" stroke-width="1"/>
<path d="M1478,714 v3.5 h2.5 v-3.5 Z" fill="none" stroke="#111" stroke-width="0.8"/>
<line x1="1391.4" y1="740.0" x2="1468.0" y2="740.0" stroke="#111" stroke-width="0.8"/>
<line x1="1391.4" y1="742.2" x2="1468.0" y2="742.2" stroke="#111" stroke-width="0.8"/>
<path d="M1493.75,726.5 H1543.25 V634.25" fill="none" stroke="#111" stroke-width="1"/>
<path d="M1493.75,729 H1546.25 V634.25" fill="none" stroke="#111" stroke-width="0.8"/>
<path d="M1493.75,735.5 H1546.25 V726.5" fill="none" stroke="#111" stroke-width="0.8"/>
<path d="M1509.5,634.25 h18 v2.5 h-18 Z M1518.5,637 V645" fill="none" stroke="#111" stroke-width="0.9"/>
<circle cx="1518.5" cy="645" r="2.2" fill="none" stroke="#111" stroke-width="0.9"/>
<path d="M1589.75,634.25 V666 A12.4,12.4 0 0 0 1614.5,666 V634.25" fill="none" stroke="#111" stroke-width="1"/>
<line x1="1589.8" y1="645.5" x2="1614.5" y2="645.5" stroke="#111" stroke-width="1"/>
<path d="M1600.5,638.5 h3.5 v2.5 h-3.5 Z" fill="none" stroke="#111" stroke-width="0.8"/>
<path d="M1572.5,793 V755.75 H1625.75 V793" fill="none" stroke="#111" stroke-width="1"/>
<circle cx="1601" cy="774.5" r="12.75" fill="none" stroke="#111" stroke-width="1"/>
<circle cx="1601" cy="774.5" r="1.8" fill="#111"/>
<path d="M1599.2,781.5 h3.6 v8 h-3.6 Z" fill="#fff" stroke="#111" stroke-width="0.8"/>
<text x="900.4" y="1107.9" font-size="13" fill="#222" font-weight="normal" text-anchor="middle" textLength="143.9" lengthAdjust="spacing">GROSS INTERNAL AREA</text>
<text x="900.4" y="1124.7" font-size="13" fill="#222" font-weight="normal" text-anchor="middle" textLength="109" lengthAdjust="spacing">TOTAL: 5,790 sq ft</text>
<text x="900.4" y="1141.5" font-size="13" fill="#222" font-weight="normal" text-anchor="middle" textLength="251.5" lengthAdjust="spacing">FLOOR 1: 2,598 sq ft, FLOOR 2: 2,776 sq ft</text>
<text x="900.4" y="1158" font-size="13" fill="#222" font-weight="normal" text-anchor="middle" textLength="112" lengthAdjust="spacing">FLOOR 3: 416 sq ft</text>
<text x="900.4" y="1174.8" font-size="13" fill="#b4b4b4" font-weight="normal" text-anchor="middle" textLength="388.9" lengthAdjust="spacing">SIZE AND DIMENSIONS ARE APPROXIMATE, ACTUAL MAY VARY</text>
<text x="30" y="1176" font-size="16" fill="#9a9a9a" font-weight="normal" text-anchor="end">FLOOR 2</text>
<g fill="#d0141e" stroke="none">
<rect x="1740" y="1108.3" width="60" height="1.6"/>
<ellipse cx="1754" cy="1112.5" rx="3" ry="4"/>
<rect x="1753.3" y="1104.5" width="1.4" height="5"/>
<ellipse cx="1794" cy="1112.5" rx="3" ry="4"/>
<rect x="1793.3" y="1104.5" width="1.4" height="5"/>
<ellipse cx="1774" cy="1112" rx="5" ry="5"/>
<path d="M1758,1111 L1770,1110 L1772,1114 Z M1790,1111 L1778,1110 L1776,1114 Z"/>
<path d="M1774,1113 C1764,1115 1757,1124 1756.5,1136 C1760,1126 1766,1120 1774,1118 C1782,1120 1788,1126 1792.5,1136 C1791,1124 1784,1115 1774,1113 Z"/>
</g>
<text x="1724" y="1146.6" font-size="9.4" fill="#d0141e" font-weight="bold" text-anchor="start" textLength="93.5" lengthAdjust="spacing">AERIAL ADVANTAGE</text>
<text x="1732.5" y="1154.6" font-size="6.8" fill="#333" font-weight="bold" text-anchor="start" textLength="80" lengthAdjust="spacing">VIDEO | PHOTOGRAPHY</text>
<text x="1710" y="1170.5" font-size="7" fill="#333" font-weight="normal" text-anchor="start" textLength="122.7" lengthAdjust="spacing">www.aerialadvantagecapecod.com</text>
<text x="1752" y="1179" font-size="6.3" fill="#333" font-weight="normal" text-anchor="start" textLength="43" lengthAdjust="spacing">508-419-6149</text>
<polygon points="382.0,124.5 379.0,128.3 385.0,128.3" fill="#111"/>
<polygon points="288.5,577.3 285.5,581.1 291.5,581.1" fill="#111"/>
<polygon points="751.0,468.0 748.0,471.8 754.0,471.8" fill="#111"/>
<polygon points="1055.5,468.0 1052.5,471.8 1058.5,471.8" fill="#111"/>
<polygon points="381.0,801.3 378.0,805.1 384.0,805.1" fill="#111"/>
<polygon points="449.0,661.3 446.0,665.1 452.0,665.1" fill="#111"/>
<polygon points="1302.0,275.5 1299.0,279.3 1305.0,279.3" fill="#111"/>
<polygon points="1454.0,121.7 1451.0,125.5 1457.0,125.5" fill="#111"/>
<polygon points="1587.0,275.5 1584.0,279.3 1590.0,279.3" fill="#111"/>
<polygon points="1571.0,387.8 1568.0,391.6 1574.0,391.6" fill="#111"/>
<polygon points="1256.5,634.7 1253.5,638.5 1259.5,638.5" fill="#111"/>
<polygon points="1437.5,634.7 1434.5,638.5 1440.5,638.5" fill="#111"/>
<polygon points="1564.0,634.7 1561.0,638.5 1567.0,638.5" fill="#111"/>
<polygon points="1414.0,802.8 1411.0,806.6 1417.0,806.6" fill="#111"/>
<polygon points="897.0,881.0 894.0,884.8 900.0,884.8" fill="#111"/>
<polygon points="382.0,567.7 379.0,563.9 385.0,563.9" fill="#111"/>
<polygon points="288.0,792.0 285.0,788.2 291.0,788.2" fill="#111"/>
<polygon points="449.0,792.0 446.0,788.2 452.0,788.2" fill="#111"/>
<polygon points="751.0,908.5 748.0,904.7 754.0,904.7" fill="#111"/>
<polygon points="1055.0,908.5 1052.0,904.7 1058.0,904.7" fill="#111"/>
<polygon points="897.0,986.7 894.0,982.9 900.0,982.9" fill="#111"/>
<polygon points="381.0,1063.2 378.0,1059.4 384.0,1059.4" fill="#111"/>
<polygon points="1587.0,378.0 1584.0,374.2 1590.0,374.2" fill="#111"/>
<polygon points="1571.0,625.0 1568.0,621.2 1574.0,621.2" fill="#111"/>
<polygon points="1303.0,560.0 1300.0,556.2 1306.0,556.2" fill="#111"/>
<polygon points="1256.5,728.3 1253.5,724.5 1259.5,724.5" fill="#111"/>
<polygon points="1437.5,793.0 1434.5,789.2 1440.5,789.2" fill="#111"/>
<polygon points="1564.0,793.0 1561.0,789.2 1567.0,789.2" fill="#111"/>
<polygon points="1414.0,1062.7 1411.0,1058.9 1417.0,1058.9" fill="#111"/>
<polygon points="161.3,345.0 165.1,342.0 165.1,348.0" fill="#111"/>
<polygon points="612.5,688.0 616.3,685.0 616.3,691.0" fill="#111"/>
<polygon points="810.7,935.0 814.5,932.0 814.5,938.0" fill="#111"/>
<polygon points="237.3,933.0 241.1,930.0 241.1,936.0" fill="#111"/>
<polygon points="374.7,727.0 378.5,724.0 378.5,730.0" fill="#111"/>
<polygon points="1314.0,228.0 1317.8,225.0 1317.8,231.0" fill="#111"/>
<polygon points="1533.3,326.4 1537.1,323.4 1537.1,329.4" fill="#111"/>
<polygon points="1391.2,542.7 1395.0,539.7 1395.0,545.7" fill="#111"/>
<polygon points="1196.0,681.0 1199.8,678.0 1199.8,684.0" fill="#111"/>
<polygon points="1391.4,714.0 1395.2,711.0 1395.2,717.0" fill="#111"/>
<polygon points="1494.4,714.0 1498.2,711.0 1498.2,717.0" fill="#111"/>
<polygon points="1271.9,932.0 1275.7,929.0 1275.7,935.0" fill="#111"/>
<polygon points="603.0,345.0 599.2,342.0 599.2,348.0" fill="#111"/>
<polygon points="1182.0,688.0 1178.2,685.0 1178.2,691.0" fill="#111"/>
<polygon points="982.0,935.0 978.2,932.0 978.2,938.0" fill="#111"/>
<polygon points="524.0,933.0 520.2,930.0 520.2,936.0" fill="#111"/>
<polygon points="522.7,727.0 518.9,724.0 518.9,730.0" fill="#111"/>
<polygon points="1523.6,228.0 1519.8,225.0 1519.8,231.0" fill="#111"/>
<polygon points="1640.0,326.4 1636.2,323.4 1636.2,329.4" fill="#111"/>
<polygon points="1640.0,543.0 1636.2,540.0 1636.2,546.0" fill="#111"/>
<polygon points="1316.7,681.0 1312.9,678.0 1312.9,684.0" fill="#111"/>
<polygon points="1483.9,714.0 1480.1,711.0 1480.1,717.0" fill="#111"/>
<polygon points="1636.7,714.0 1632.9,711.0 1632.9,717.0" fill="#111"/>
<polygon points="1557.5,932.0 1553.7,929.0 1553.7,935.0" fill="#111"/>
<polygon points="414.7,622.0 410.9,619.0 410.9,625.0" fill="#111"/>
<polygon points="1445.7,402.0 1441.9,399.0 1441.9,405.0" fill="#111"/>
<polygon points="897.0,688.0 900.0,685.5 900.0,690.5" fill="#111"/>
<polygon points="903.0,688.0 900.0,685.5 900.0,690.5" fill="#111"/>
<polygon points="896.5,685.0 896.5,691.0 900.0,688.0" fill="#111"/>
<polygon points="903.5,685.0 903.5,691.0 900.0,688.0" fill="#111"/>
<polygon points="1196.3,461.5 1206.5,471.5 1201.0,477.5 1196.3,473.0" fill="#000"/>
</svg></body></html>
